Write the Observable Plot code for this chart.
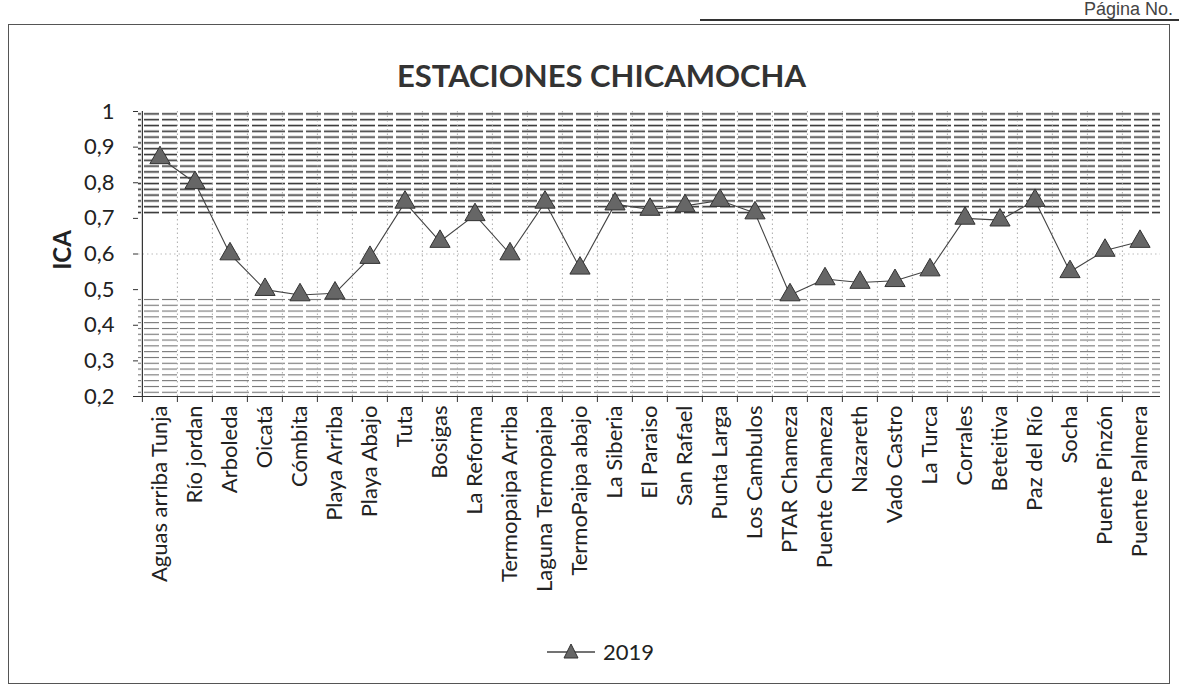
<!DOCTYPE html>
<html>
<head>
<meta charset="utf-8">
<script src="https://cdn.jsdelivr.net/npm/d3@7"></script>
<script src="https://cdn.jsdelivr.net/npm/@observablehq/plot@0.6"></script>
<style>
  body { margin:0; background:#fff; font-family: Lato, "Open Sans", sans-serif; width:1179px; height:698px; overflow:hidden; position:relative; }
  #frame { position:absolute; left:8px; top:24px; width:1162px; height:660px; border:1.5px solid #555; box-sizing:border-box; }
  #title { position:absolute; top:56px; left:12px; width:1179px; text-align:center; font-size:31px; font-weight:bold; color:#333; line-height:38px; }
  #page { position:absolute; top:0px; right:6px; font-size:18px; line-height:18px; color:#444; font-family:"Liberation Sans", sans-serif; }
  #hdrline { position:absolute; top:19px; left:700px; width:479px; border-top:2px solid #333; }
  #chart { position:absolute; left:0; top:94px; }
  #ylab { position:absolute; left:61px; top:250px; transform:translate(-50%,-50%) rotate(-90deg); font-weight:bold; font-size:24px; color:#222; }
  #legend { position:absolute; top:638px; left:545px; display:flex; align-items:center; gap:6px; font-size:22px; color:#222; }
</style>
</head>
<body>
<div id="hdrline"></div>
<div id="page">Página No.</div>
<div id="frame"></div>
<div id="title">ESTACIONES CHICAMOCHA</div>
<div id="chart"></div>
<div id="ylab">ICA</div>
<div id="legend"><svg width="52" height="26"><line x1="2" y1="13" x2="50" y2="13" stroke="#444" stroke-width="1.3"/><path d="M26,5 L33,19 L19,19 Z" fill="#666" stroke="#333" stroke-width="1"/></svg><span>2019</span></div>
<script>
const stations = ["Aguas arriba Tunja","Río jordan","Arboleda","Oicatá","Cómbita","Playa Arriba","Playa Abajo","Tuta","Bosigas","La Reforma","Termopaipa Arriba","Laguna Termopaipa","TermoPaipa abajo","La Siberia","El Paraiso","San Rafael","Punta Larga","Los Cambulos","PTAR Chameza","Puente Chameza","Nazareth","Vado Castro","La Turca","Corrales","Beteitiva","Paz del Río","Socha","Puente Pinzón","Puente Palmera"];
const ica2019 = [0.87,0.80,0.60,0.50,0.485,0.49,0.59,0.745,0.635,0.71,0.60,0.745,0.56,0.74,0.725,0.735,0.75,0.715,0.485,0.53,0.52,0.525,0.555,0.70,0.695,0.75,0.55,0.61,0.635];
const yTicks = [0.2,0.3,0.4,0.5,0.6,0.7,0.8,0.9,1];
const bandLo = [0.71,0.2];
const bandHi = [1.0,0.48];
const bandPattern = ["url(#hatchDark)","url(#hatchLight)"];

const data = stations.map((s,i)=>({station:s, value:ica2019[i]}));
const bands = bandLo.map((lo,i)=>({lo, hi:bandHi[i], fill:bandPattern[i]}));

const W = 1179, ml = 138, mr = 19;
const step = (W - ml - mr) / stations.length;
const fmt = d => d === 1 ? "1" : d3.format(".1f")(d).replace(".", ",");

const plot = Plot.plot({
  width: W,
  height: 530,
  marginLeft: ml,
  marginRight: mr,
  marginTop: 17,
  marginBottom: 228,
  style: {fontFamily: "Lato, 'Open Sans', sans-serif", color:"#222", background:"transparent"},
  x: {type:"band", domain: stations, padding: 0, label: null},
  y: {domain:[0.2,1], label:null, ticks: yTicks, tickFormat: fmt},
  marks: [
    Plot.rect(bands, {y1:"lo", y2:"hi", fill: d => d.fill}),
    Plot.ruleX(stations.slice(1), {x: d => d, dx: -step/2, stroke:"#aaa", strokeDasharray:"1.5,3", strokeWidth:1}),
    Plot.ruleY([0.6], {stroke:"#bbb", strokeDasharray:"1.5,3"}),
    Plot.axisY({ticks: yTicks, tickFormat: fmt, fontSize: 22, tickSize: 5, tickPadding: 19, stroke:"#333"}),
    Plot.axisX({fontSize: 22, tickRotate: -90, tickSize: 0, tickPadding: 9}),
    Plot.axisX({text: null, tickSize: 6, dx: -step/2, stroke:"#333"}),
    Plot.ruleY([0.2], {stroke:"#333", strokeWidth:1.2}),
    Plot.ruleX([stations[0]], {dx: -step/2, stroke:"#333", strokeWidth:1.2}),
    Plot.line(data, {x:"station", y:"value", stroke:"#444", strokeWidth:1.1}),
    Plot.dot(data, {x:"station", y:"value", symbol:"triangle", r:7.5, fill:"#666", stroke:"#333", strokeWidth:1})
  ]
});

const svg = d3.select(plot);
const defs = svg.insert("defs", ":first-child");
const pd = defs.append("pattern").attr("id","hatchDark").attr("patternUnits","userSpaceOnUse").attr("width",18).attr("height",5.8);
pd.append("line").attr("x1",0).attr("x2",15).attr("y1",2.5).attr("y2",2.5).attr("stroke","#333").attr("stroke-width",1.6);
const pl = defs.append("pattern").attr("id","hatchLight").attr("patternUnits","userSpaceOnUse").attr("width",18).attr("height",5.8);
pl.append("line").attr("x1",0).attr("x2",15).attr("y1",2.5).attr("y2",2.5).attr("stroke","#666").attr("stroke-width",1);

document.getElementById("chart").appendChild(plot);
</script>
</body>
</html>
